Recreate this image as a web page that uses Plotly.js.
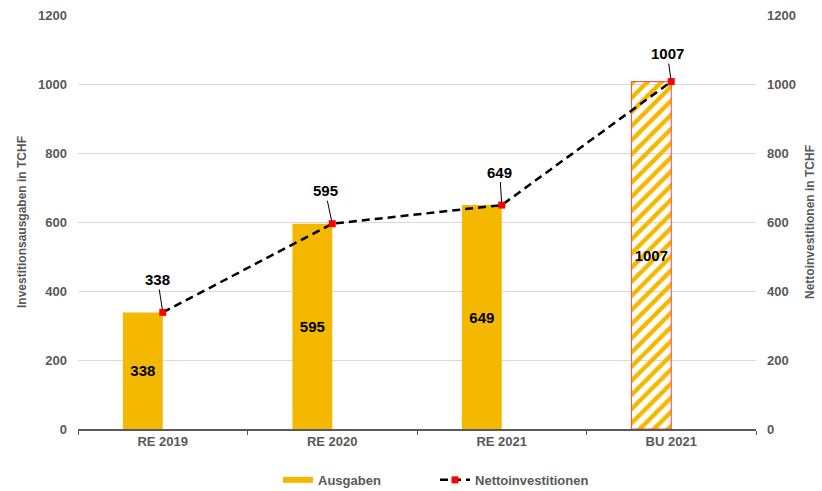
<!DOCTYPE html>
<html>
<head>
<meta charset="utf-8">
<script src="https://cdn.plot.ly/plotly-3.0.1.min.js"></script>
<style>html,body{margin:0;padding:0;background:#fff;}#chart{width:822px;height:491px;}</style>
</head>
<body>
<div id="chart"></div>
<script>
const categories = ["RE 2019", "RE 2020", "RE 2021", "BU 2021"];
const ausgaben = [338, 595, 649, 1007];
const nettoinvestitionen = [338, 595, 649, 1007];
const yTicks = [0, 200, 400, 600, 800, 1000, 1200];

const gold = "#F5B800";
const gray = "#595959";
const fontFam = "Liberation Sans, Arial, sans-serif";
const isBudget = categories.map(c => c.startsWith("BU"));

const barTrace = {
  type: "bar",
  x: categories,
  y: ausgaben,
  width: 0.235,
  offset: -0.235,
  name: "Ausgaben",
  showlegend: false,
  text: ausgaben.map(String),
  textposition: "inside",
  insidetextanchor: "middle",
  constraintext: "none",
  textfont: {family: fontFam, size: 15, color: "#000", weight: "bold"},
  marker: {
    color: gold,
    line: {color: isBudget.map(b => b ? "#f04a4a" : "rgba(0,0,0,0)"), width: 1},
    pattern: {
      shape: isBudget.map(b => b ? "/" : ""),
      size: 10,
      solidity: 0.45,
      fillmode: "replace"
    }
  },
  hoverinfo: "skip"
};

const legendBar = {
  type: "scatter",
  mode: "lines",
  x: [null],
  y: [null],
  name: "Ausgaben",
  line: {color: gold, width: 6},
  hoverinfo: "skip"
};

const lineTrace = {
  type: "scatter",
  mode: "lines+markers",
  x: categories,
  y: nettoinvestitionen,
  yaxis: "y2",
  name: "Nettoinvestitionen",
  line: {color: "#000", width: 2.5, dash: "8px,5px"},
  marker: {symbol: "square", color: "#ff0000", size: 7},
  hoverinfo: "skip"
};

const offsets = [[-5, -33], [-7, -33], [-2, -33], [-4, -28]];
const annotations = nettoinvestitionen.map((v, i) => ({
  x: categories[i], y: v, xref: "x", yref: "y2",
  text: String(v),
  showarrow: true, arrowhead: 0, arrowwidth: 1, arrowcolor: "#000",
  ax: offsets[i][0], ay: offsets[i][1],
  standoff: 3,
  font: {family: fontFam, size: 15, color: "#000", weight: "bold"}
}));

const axisFont = {family: fontFam, size: 13, color: gray, weight: "bold"};

const layout = {
  width: 822, height: 491,
  margin: {l: 78, r: 66, t: 14.5, b: 62, pad: 0, autoexpand: false},
  paper_bgcolor: "#fff", plot_bgcolor: "#fff",
  showlegend: true,
  legend: {
    orientation: "h", x: 0.295, xanchor: "left", y: -0.123, yanchor: "middle",
    font: {family: fontFam, size: 13, color: gray, weight: "bold"},
    traceorder: "normal", entrywidth: 112, entrywidthmode: "pixels"
  },
  xaxis: {
    type: "category",
    range: [-0.5, 3.5],
    tickson: "boundaries",
    ticks: "outside", ticklen: 4, tickcolor: gray, tickwidth: 1,
    showline: true, linecolor: gray, linewidth: 1.5,
    showgrid: false,
    tickfont: axisFont,
    fixedrange: true
  },
  yaxis: {
    range: [0, 1200], tickvals: yTicks, ticktext: yTicks.map(String),
    showgrid: true, gridcolor: "#d9d9d9", gridwidth: 1,
    zeroline: false, showline: false, ticks: "",
    ticklabelstandoff: 10,
    tickfont: axisFont,
    title: {text: "Investitionsausgaben in TCHF", font: {family: fontFam, size: 12, color: gray, weight: "bold"}, standoff: 8}
  },
  yaxis2: {
    range: [0, 1200], tickvals: yTicks, ticktext: yTicks.map(String),
    overlaying: "y", side: "right",
    showgrid: false, zeroline: false, showline: false, ticks: "",
    ticklabelstandoff: 10,
    tickfont: axisFont,
    title: {text: "Nettoinvestitionen in TCHF", font: {family: fontFam, size: 12, color: gray, weight: "bold"}, standoff: 10}
  },
  annotations: annotations
};

Plotly.newPlot("chart", [barTrace, legendBar, lineTrace], layout, {displayModeBar: false, staticPlot: true});
</script>
</body>
</html>
